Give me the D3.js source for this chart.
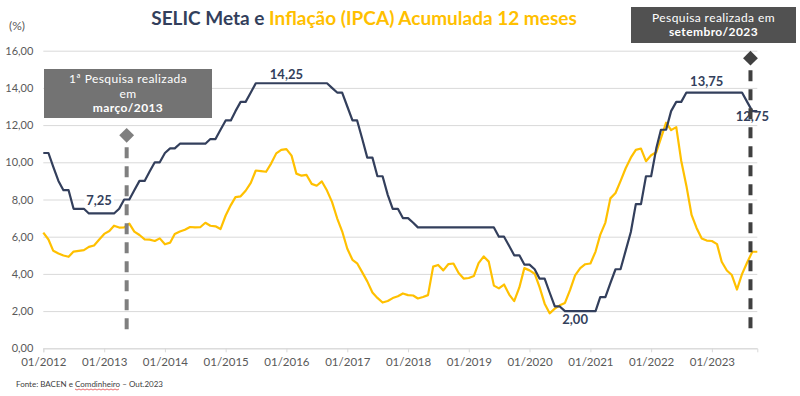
<!DOCTYPE html>
<html>
<head>
<meta charset="utf-8">
<script src="https://cdn.jsdelivr.net/npm/d3@7"></script>
<style>
  body { margin: 0; background: #fff; }
  svg text { font-family: Lato, "Open Sans", sans-serif; }
</style>
</head>
<body>
<div id="chart"></div>
<script>
// monthly values, 01/2012 .. 10/2023
const startMonth = "2012-01";
const selic = [
  10.50, 10.50, 9.75, 9.00, 8.50, 8.50, 7.50, 7.50, 7.50, 7.25, 7.25, 7.25,
  7.25, 7.25, 7.25, 7.50, 8.00, 8.00, 8.50, 9.00, 9.00, 9.50, 10.00, 10.00,
  10.50, 10.75, 10.75, 11.00, 11.00, 11.00, 11.00, 11.00, 11.00, 11.25, 11.25, 11.75,
  12.25, 12.25, 12.75, 13.25, 13.25, 13.75, 14.25, 14.25, 14.25, 14.25, 14.25, 14.25,
  14.25, 14.25, 14.25, 14.25, 14.25, 14.25, 14.25, 14.25, 14.25, 14.00, 13.75, 13.75,
  13.00, 12.25, 12.25, 11.25, 10.25, 10.25, 9.25, 9.25, 8.25, 7.50, 7.50, 7.00,
  7.00, 6.75, 6.50, 6.50, 6.50, 6.50, 6.50, 6.50, 6.50, 6.50, 6.50, 6.50,
  6.50, 6.50, 6.50, 6.50, 6.50, 6.50, 6.00, 6.00, 5.50, 5.00, 5.00, 4.50,
  4.50, 4.25, 3.75, 3.75, 3.00, 2.25, 2.25, 2.00, 2.00, 2.00, 2.00, 2.00,
  2.00, 2.00, 2.75, 2.75, 3.50, 4.25, 4.25, 5.25, 6.25, 7.75, 7.75, 9.25,
  9.25, 10.75, 11.75, 11.75, 12.75, 13.25, 13.25, 13.75, 13.75, 13.75, 13.75, 13.75,
  13.75, 13.75, 13.75, 13.75, 13.75, 13.75, 13.75, 13.25, 12.75, 12.75
];
const ipca = [
  6.22, 5.85, 5.24, 5.10, 4.99, 4.92, 5.20, 5.24, 5.28, 5.45, 5.53, 5.84,
  6.15, 6.31, 6.59, 6.49, 6.50, 6.70, 6.27, 6.09, 5.86, 5.84, 5.77, 5.91,
  5.59, 5.68, 6.15, 6.28, 6.37, 6.52, 6.50, 6.51, 6.75, 6.59, 6.56, 6.41,
  7.14, 7.70, 8.13, 8.17, 8.47, 8.89, 9.56, 9.53, 9.49, 9.93, 10.48, 10.67,
  10.71, 10.36, 9.39, 9.28, 9.32, 8.84, 8.74, 8.97, 8.48, 7.87, 6.99, 6.29,
  5.35, 4.76, 4.57, 4.08, 3.60, 3.00, 2.71, 2.46, 2.54, 2.70, 2.80, 2.95,
  2.86, 2.84, 2.68, 2.76, 2.86, 4.39, 4.48, 4.19, 4.53, 4.56, 4.05, 3.75,
  3.78, 3.89, 4.58, 4.94, 4.66, 3.37, 3.22, 3.43, 2.89, 2.54, 3.27, 4.31,
  4.19, 4.01, 3.30, 2.40, 1.88, 2.13, 2.31, 2.44, 3.14, 3.92, 4.31, 4.52,
  4.56, 5.20, 6.10, 6.76, 8.06, 8.35, 8.99, 9.68, 10.25, 10.67, 10.74, 10.06,
  10.38, 10.54, 11.30, 12.13, 11.73, 11.89, 10.07, 8.73, 7.17, 6.47, 5.90, 5.79,
  5.77, 5.60, 4.65, 4.18, 3.94, 3.16, 3.99, 4.61, 5.19, 5.19
];
const xTicks = ["2012-01", "2013-01", "2014-01", "2015-01", "2016-01", "2017-01",
  "2018-01", "2019-01", "2020-01", "2021-01", "2022-01", "2023-01"];
const yTicks = [0, 2, 4, 6, 8, 10, 12, 14, 16];

// value labels on the SELIC line
const labelMonths = ["2012-12", "2016-01", "2022-12", "2023-09", "2020-10"];
const labelValues = [7.25, 14.25, 13.75, 12.75, 2.00];
const labelDy = [-13, -9, -11, 5, 8];

// survey markers
const surveyDates = ["2013-05-16", "2023-08-21"];
const surveyTop = [11.45, 15.6];
const surveyBottom = [0.8, 1.0];
const surveyColors = ["#7f7f7f", "#404040"];

const width = 800, height = 396;
const navy = "#333f5c", yellow = "#ffc000";
const parseMonth = d3.timeParse("%Y-%m");
const parseDay = d3.timeParse("%Y-%m-%d");
const fmt = d3.format(".2f");
const comma = v => fmt(v).replace(".", ",");

const months = d3.range(selic.length).map(i => d3.timeMonth.offset(parseMonth(startMonth), i));

const x = d3.scaleTime()
  .domain([parseMonth("2012-01"), parseMonth("2023-10")])
  .range([43.3, 757.3]);
const y = d3.scaleLinear().domain([0, 16]).range([348.3, 50.7]);

const svg = d3.select("#chart").append("svg")
  .attr("width", width).attr("height", height)
  .attr("viewBox", `0 0 ${width} ${height}`);

// title
const title = svg.append("text")
  .attr("x", 364).attr("y", 25)
  .attr("text-anchor", "middle")
  .style("font-size", "19px").style("font-weight", "bold");
title.append("tspan").attr("fill", navy).text("SELIC Meta e ");
title.append("tspan").attr("fill", yellow).text("Inflação (IPCA) Acumulada 12 meses");

svg.append("text").attr("x", 9).attr("y", 30)
  .attr("fill", "#595959").style("font-size", "12px").text("(%)");

// grid + y labels
const yAxis = d3.axisLeft(y).tickValues(yTicks).tickSize(-(757.3 - 43.3)).tickFormat(comma);
const gy = svg.append("g").attr("transform", "translate(43.3,0)").call(yAxis);
gy.select(".domain").remove();
gy.selectAll(".tick line").attr("stroke", "#d9d9d9");
gy.selectAll(".tick text").attr("x", -10).attr("fill", "#595959")
  .style("font-size", "11px").style("font-family", "Lato, sans-serif");

// x axis
const xAxis = d3.axisBottom(x).tickValues(xTicks.map(parseMonth))
  .tickSize(4).tickFormat(d3.timeFormat("%m/%Y"));
const gx = svg.append("g").attr("transform", `translate(0,${y(0)})`).call(xAxis);
gx.select(".domain").attr("stroke", "#d9d9d9");
gx.selectAll(".tick line").attr("stroke", "#d9d9d9");
gx.selectAll(".tick text").attr("y", 10).attr("fill", "#595959")
  .style("font-size", "11.5px").style("font-family", "Lato, sans-serif");

// lines
const line = d3.line().x((d, i) => x(months[i])).y(d => y(d));
svg.append("path").datum(ipca).attr("d", line)
  .attr("fill", "none").attr("stroke", yellow).attr("stroke-width", 2.2)
  .attr("stroke-linejoin", "round");
svg.append("path").datum(selic).attr("d", line)
  .attr("fill", "none").attr("stroke", navy).attr("stroke-width", 2.2)
  .attr("stroke-linejoin", "round");

// value labels
const labels = svg.append("g");
labelValues.forEach((v, i) => {
  const g = labels.append("g")
    .attr("transform", `translate(${x(parseMonth(labelMonths[i]))},${y(v) + labelDy[i]})`);
  const t = g.append("text").attr("text-anchor", "middle").attr("dy", "0.35em")
    .attr("fill", navy).style("font-size", "13px").style("font-weight", "bold")
    .text(comma(v));
  if (i === 0) {
    const b = t.node().getBBox();
    g.insert("rect", "text").attr("x", b.x - 2).attr("y", b.y + 1)
      .attr("width", b.width + 4).attr("height", b.height - 2).attr("fill", "#fff");
  }
});

// survey markers
surveyDates.forEach((d, i) => {
  const px = x(parseDay(d));
  svg.append("line").attr("x1", px).attr("x2", px)
    .attr("y1", y(surveyTop[i]) + 12).attr("y2", y(surveyBottom[i]))
    .attr("stroke", surveyColors[i]).attr("stroke-width", 4)
    .attr("stroke-dasharray", "11,8");
  svg.append("path")
    .attr("d", d3.symbol(d3.symbolDiamond2, 140)())
    .attr("transform", `translate(${px},${y(surveyTop[i])})`)
    .attr("fill", surveyColors[i]);
});

// annotation boxes
function box(x0, y0, w, h, fill, lines) {
  const g = svg.append("g");
  g.append("rect").attr("x", x0).attr("y", y0).attr("width", w).attr("height", h).attr("fill", fill);
  lines.forEach(l => {
    g.append("text").attr("x", x0 + w / 2).attr("y", l.y).attr("text-anchor", "middle")
      .attr("fill", "#fff").style("font-size", "12px").style("letter-spacing", "0.4px")
      .style("font-weight", l.bold ? "bold" : "normal").text(l.text);
  });
}
box(44, 69, 168, 49, "#737373", [
  { text: "1ª Pesquisa realizada", y: 83 },
  { text: "em", y: 97.6 },
  { text: "março/2013", y: 112.2, bold: true }
]);
box(631, 7, 165, 36, "#515151", [
  { text: "Pesquisa realizada em", y: 21.5 },
  { text: "setembro/2023", y: 36.1, bold: true }
]);

// source
const src = svg.append("text").attr("x", 16).attr("y", 387)
  .attr("fill", "#404040").style("font-size", "8px");
src.append("tspan").text("Fonte: BACEN e ");
src.append("tspan").text("Comdinheiro");
src.append("tspan").text(" – Out.2023");
// spell-check squiggle under "Comdinheiro"
const sx0 = 16 + src.node().getSubStringLength(0, 15);
const sx1 = sx0 + src.node().getSubStringLength(15, 11);
const squiggle = d3.range(sx0, sx1, 2).map((px, i) => [px, 389 + (i % 2 ? 1 : 0)]);
svg.append("path").attr("d", d3.line()(squiggle))
  .attr("fill", "none").attr("stroke", "#e03030").attr("stroke-width", 0.7);
</script>
</body>
</html>
